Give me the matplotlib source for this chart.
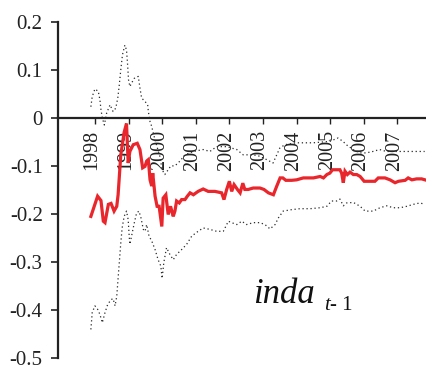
import matplotlib
matplotlib.use("Agg")
import matplotlib.pyplot as plt
import matplotlib.transforms as mtransforms

# Recursive coefficient estimate of inda(t-1) with its confidence band
est_t = [1997.88, 1998.08, 1998.18, 1998.25, 1998.30, 1998.40, 1998.48, 1998.57, 1998.65, 1998.69,
         1998.77, 1998.87, 1998.94, 1998.99, 1999.04, 1999.14, 1999.26, 1999.34, 1999.42, 1999.49,
         1999.54, 1999.59, 1999.64, 1999.69, 1999.72, 1999.79, 1999.85, 1999.91, 1999.99, 2000.03,
         2000.11, 2000.18, 2000.25, 2000.33, 2000.38, 2000.43, 2000.51, 2000.58, 2000.68, 2000.75,
         2000.83, 2000.93, 2001.07, 2001.22, 2001.37, 2001.57, 2001.77, 2001.84, 2001.92, 2002.00,
         2002.07, 2002.14, 2002.24, 2002.32, 2002.40, 2002.46, 2002.56, 2002.71, 2002.91, 2003.03,
         2003.16, 2003.31, 2003.41, 2003.51, 2003.59, 2003.68, 2003.85, 2004.00, 2004.20, 2004.50,
         2004.70, 2004.80, 2004.90, 2004.99, 2005.07, 2005.29, 2005.34, 2005.39, 2005.44, 2005.51,
         2005.59, 2005.69, 2005.79, 2005.89, 2006.01, 2006.18, 2006.33, 2006.43, 2006.63, 2006.78,
         2006.93, 2007.03, 2007.23, 2007.32, 2007.43, 2007.57, 2007.72, 2007.82]
est_v = [-0.205, -0.163, -0.172, -0.215, -0.218, -0.180, -0.178, -0.194, -0.184, -0.160,
         -0.077, -0.030, -0.012, -0.094, -0.070, -0.056, -0.053, -0.066, -0.104, -0.101,
         -0.090, -0.087, -0.129, -0.142, -0.115, -0.163, -0.184, -0.184, -0.226, -0.167,
         -0.160, -0.201, -0.184, -0.205, -0.194, -0.173, -0.177, -0.170, -0.170, -0.163,
         -0.156, -0.160, -0.153, -0.148, -0.153, -0.153, -0.156, -0.170, -0.149, -0.132,
         -0.153, -0.139, -0.149, -0.156, -0.136, -0.149, -0.149, -0.146, -0.146, -0.149,
         -0.156, -0.160, -0.142, -0.125, -0.125, -0.130, -0.130, -0.129, -0.125, -0.125,
         -0.122, -0.125, -0.118, -0.115, -0.108, -0.108, -0.115, -0.135, -0.111, -0.118,
         -0.113, -0.118, -0.118, -0.122, -0.132, -0.132, -0.132, -0.125, -0.125, -0.129,
         -0.135, -0.132, -0.130, -0.125, -0.129, -0.127, -0.127, -0.129]

upper_t = [1997.88, 1997.92, 1998.00, 1998.10, 1998.15, 1998.18, 1998.22, 1998.28, 1998.35, 1998.45,
           1998.54, 1998.62, 1998.68, 1998.72, 1998.77, 1998.82, 1998.89, 1998.94, 1998.97, 1999.00,
           1999.04, 1999.09, 1999.17, 1999.29, 1999.34, 1999.39, 1999.49, 1999.57, 1999.59, 1999.64,
           1999.69, 1999.73, 1999.79, 1999.93, 2000.00, 2000.08, 2000.18, 2000.26, 2000.38, 2000.53,
           2000.68, 2000.93, 2001.22, 2001.42, 2001.62, 2001.92, 2002.22, 2002.41, 2002.71, 2002.91,
           2003.11, 2003.30, 2003.50, 2003.65, 2003.99, 2004.49, 2004.99, 2005.23, 2005.38, 2005.48,
           2005.68, 2005.88, 2006.07, 2006.27, 2006.47, 2006.67, 2006.97, 2007.46, 2007.81]
upper_v = [0.023, 0.044, 0.060, 0.055, 0.037, 0.017, 0.000, -0.015, 0.010, 0.027,
           0.013, 0.020, 0.041, 0.065, 0.100, 0.131, 0.151, 0.141, 0.113, 0.079,
           0.065, 0.072, 0.082, 0.086, 0.062, 0.041, 0.034, 0.027, 0.013, -0.008,
           -0.018, -0.030, -0.046, -0.080, -0.108, -0.118, -0.108, -0.100, -0.100, -0.090,
           -0.077, -0.070, -0.066, -0.070, -0.060, -0.060, -0.066, -0.077, -0.077, -0.080,
           -0.087, -0.094, -0.063, -0.056, -0.052, -0.052, -0.049, -0.042, -0.049, -0.056,
           -0.066, -0.073, -0.073, -0.070, -0.066, -0.070, -0.070, -0.070, -0.070]

lower_t = [1997.88, 1997.92, 1998.00, 1998.08, 1998.15, 1998.22, 1998.30, 1998.38, 1998.48, 1998.54,
           1998.60, 1998.65, 1998.68, 1998.71, 1998.74, 1998.77, 1998.81, 1998.87, 1998.94, 1998.99,
           1999.02, 1999.04, 1999.09, 1999.17, 1999.24, 1999.31, 1999.37, 1999.44, 1999.49, 1999.54,
           1999.61, 1999.69, 1999.79, 1999.88, 1999.96, 2000.00, 2000.05, 2000.13, 2000.23, 2000.33,
           2000.43, 2000.58, 2000.73, 2000.88, 2001.03, 2001.22, 2001.42, 2001.62, 2001.82, 2001.97,
           2002.07, 2002.22, 2002.37, 2002.51, 2002.71, 2002.91, 2003.06, 2003.21, 2003.36, 2003.46,
           2003.60, 2003.85, 2004.10, 2004.40, 2004.70, 2004.90, 2005.04, 2005.19, 2005.29, 2005.39,
           2005.49, 2005.69, 2005.89, 2006.04, 2006.28, 2006.48, 2006.68, 2006.88, 2007.08, 2007.28,
           2007.47, 2007.67, 2007.82]
lower_v = [-0.440, -0.405, -0.391, -0.398, -0.409, -0.426, -0.405, -0.388, -0.378, -0.376,
           -0.391, -0.371, -0.343, -0.315, -0.288, -0.260, -0.229, -0.205, -0.194, -0.212,
           -0.246, -0.263, -0.246, -0.219, -0.198, -0.194, -0.208, -0.232, -0.236, -0.222,
           -0.246, -0.256, -0.274, -0.295, -0.308, -0.334, -0.301, -0.270, -0.284, -0.295,
           -0.284, -0.274, -0.263, -0.246, -0.238, -0.229, -0.232, -0.236, -0.236, -0.215,
           -0.218, -0.222, -0.215, -0.222, -0.218, -0.218, -0.222, -0.231, -0.222, -0.208,
           -0.194, -0.191, -0.189, -0.189, -0.187, -0.184, -0.173, -0.173, -0.169, -0.183,
           -0.177, -0.176, -0.184, -0.194, -0.194, -0.187, -0.183, -0.187, -0.187, -0.184,
           -0.180, -0.177, -0.180]

year_ticks = [1998, 1999, 2000, 2001, 2002, 2003, 2004, 2005, 2006, 2007]
year_labels = [str(y) for y in year_ticks]
y_ticks = [0.2, 0.1, 0.0, -0.1, -0.2, -0.3, -0.4, -0.5]
y_labels = ["0.2", "0.1", "0", "-0.1", "-0.2", "-0.3", "-0.4", "-0.5"]

serif = "Liberation Serif"
plt.rcParams["font.family"] = serif

fig = plt.figure(figsize=(4.26, 3.69), dpi=100)
ax = fig.add_axes([0.136, 0.029, 0.864, 0.9125])

ax.plot(upper_t, upper_v, color="#2a2a2a", lw=0.9, linestyle=(0, (1, 2.2)))
ax.plot(lower_t, lower_v, color="#2a2a2a", lw=0.9, linestyle=(0, (1, 2.2)))
ax.plot(est_t, est_v, color="#e8262b", lw=2.3, solid_joinstyle="miter")

ax.set_xlim(1996.9, 2007.85)
ax.set_ylim(-0.5, 0.2)

for side in ("top", "right"):
    ax.spines[side].set_visible(False)
ax.spines["bottom"].set_position(("data", 0))
ax.spines["bottom"].set_linewidth(1.6)
ax.spines["bottom"].set_color("#222222")
ax.spines["left"].set_linewidth(1.6)
ax.spines["left"].set_color("#222222")

ax.set_yticks(y_ticks)
ax.set_yticklabels(y_labels, fontsize=15)
ax.tick_params(axis="y", direction="out", length=5, width=1.2, pad=6, colors="#222222")

ax.set_xticks(year_ticks)
ax.set_xticklabels(year_labels, rotation=90, fontsize=14.5, va="top", ha="center")
ax.tick_params(axis="x", direction="out", length=4, width=1.0, pad=5, colors="#222222")
shift = mtransforms.ScaledTranslation(-3 / 100, 0, fig.dpi_scale_trans)
for lab in ax.get_xticklabels():
    lab.set_transform(lab.get_transform() + shift)

# Variable name label
fig.text(253 / 426, 1 - 303 / 369, "inda", fontsize=25, style="italic",
         family=serif, ha="left", va="baseline", color="#111111")
fig.text(324 / 426, 1 - 310 / 369, "t", fontsize=15, style="italic",
         family=serif, ha="left", va="baseline", color="#111111")
fig.text(330 / 426, 1 - 310 / 369, "- 1", fontsize=15,
         family=serif, ha="left", va="baseline", color="#111111")

fig.savefig("out.png", dpi=100)
